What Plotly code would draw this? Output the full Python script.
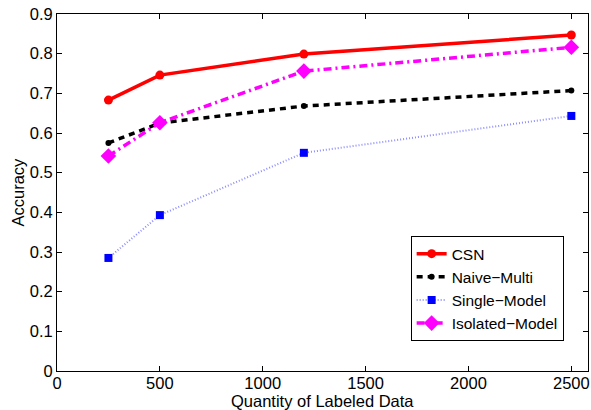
import plotly.graph_objects as go

x_vals = [250, 500, 1200, 2500]
csn = [0.683, 0.746, 0.799, 0.847]
naive_multi = [0.575, 0.625, 0.668, 0.707]
single_model = [0.285, 0.393, 0.550, 0.643]
isolated_model = [0.542, 0.626, 0.756, 0.816]

x_ticks = [0, 500, 1000, 1500, 2000, 2500]
y_ticks = [0, 0.1, 0.2, 0.3, 0.4, 0.5, 0.6, 0.7, 0.8, 0.9]
y_tick_text = ["0", "0.1", "0.2", "0.3", "0.4", "0.5", "0.6", "0.7", "0.8", "0.9"]

FONT = "Liberation Sans, Arial, Helvetica, sans-serif"
FS = 16.5
LEG_FS = 15.5

fig = go.Figure()
fig.add_trace(go.Scatter(x=x_vals, y=csn, name="CSN", mode="lines+markers",
                         line=dict(color="#ff0000", width=3.5, dash="solid"),
                         marker=dict(symbol="circle", size=9, color="#ff0000")))
fig.add_trace(go.Scatter(x=x_vals, y=naive_multi, name="Naive\u2212Multi", mode="lines+markers",
                         line=dict(color="#000000", width=3.5, dash="6px,5px"),
                         marker=dict(symbol="circle", size=6, color="#000000")))
fig.add_trace(go.Scatter(x=x_vals, y=single_model, name="Single\u2212Model", mode="lines+markers",
                         line=dict(color="rgba(80,80,255,0.65)", width=2, dash="1px,2px"),
                         marker=dict(symbol="square", size=8, color="#0000ff")))
fig.add_trace(go.Scatter(x=x_vals, y=isolated_model, name="Isolated\u2212Model", mode="lines+markers",
                         line=dict(color="#ff00ff", width=3.5, dash="8px,4px,2px,4px"),
                         marker=dict(symbol="diamond", size=12, color="#ff00ff")))

fig.update_layout(
    width=591, height=410,
    margin=dict(l=57, r=1, t=14, b=39),
    paper_bgcolor="white", plot_bgcolor="white",
    font=dict(family=FONT, size=FS, color="black"),
    showlegend=True,
    legend=dict(x=0.666, y=0.378, xanchor="left", yanchor="top",
                bordercolor="black", borderwidth=1, bgcolor="white",
                font=dict(family=FONT, size=LEG_FS, color="black"),
                itemwidth=30, tracegroupgap=0),
    annotations=[
        dict(text="Quantity of Labeled Data", xref="paper", yref="paper",
             x=0.5, y=0, xanchor="center", yanchor="middle", yshift=-30,
             showarrow=False, font=dict(family=FONT, size=FS, color="black")),
        dict(text="Accuracy", xref="paper", yref="paper",
             x=0, y=0.5, xanchor="center", yanchor="middle", xshift=-40,
             textangle=-90, showarrow=False, font=dict(family=FONT, size=FS, color="black")),
    ],
)
fig.update_xaxes(range=[0, 2581], tickvals=x_ticks, ticks="inside", ticklen=5,
                 showline=True, linecolor="black", linewidth=1, mirror="ticks",
                 showgrid=False, zeroline=False, tickcolor="black",
                 ticklabeloverflow="allow", ticklabelstandoff=-3,
                 tickfont=dict(family=FONT, size=FS, color="black"))
fig.update_yaxes(range=[0, 0.9], tickvals=y_ticks, ticktext=y_tick_text, ticks="inside", ticklen=5,
                 showline=True, linecolor="black", linewidth=1, mirror="ticks",
                 showgrid=False, zeroline=False, tickcolor="black",
                 ticklabeloverflow="allow",
                 tickfont=dict(family=FONT, size=FS, color="black"))

fig.write_html("out.html")
